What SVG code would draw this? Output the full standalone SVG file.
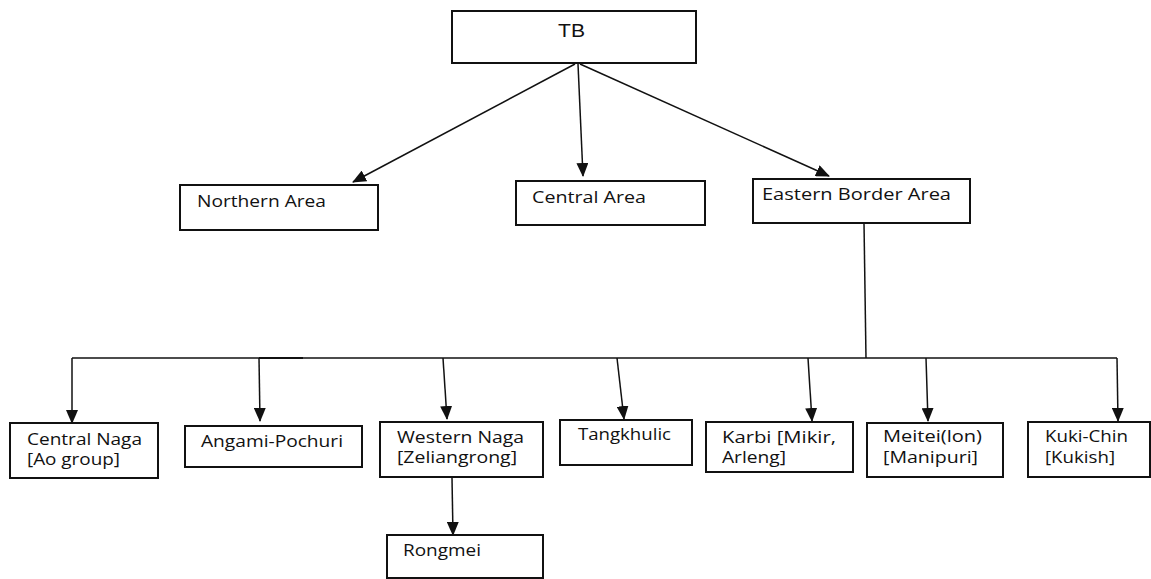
<svg xmlns="http://www.w3.org/2000/svg" width="1151" height="579" viewBox="0 0 1151 579">
<style>
.box{fill:#fff;stroke:#111;stroke-width:2}
.t{font-family:"Open Sans","Liberation Sans",sans-serif;font-size:16px;fill:#111}
.tb{font-family:"Liberation Sans",Arial,sans-serif;font-size:18px;fill:#111}
.c{fill:none;stroke:#111;stroke-width:1.5}
</style>
<defs>
<marker id="ah" markerUnits="userSpaceOnUse" markerWidth="14" markerHeight="12" viewBox="0 0 14 12" refX="13" refY="6" orient="auto">
<path d="M0,0 L14,6 L0,12 Z" fill="#111"/>
</marker>
</defs>
<rect width="1151" height="579" fill="#fff"/>
<g id="connectors">
<line class="c" x1="575" y1="64" x2="353" y2="182" marker-end="url(#ah)"/>
<line class="c" x1="578" y1="64" x2="583" y2="176" marker-end="url(#ah)"/>
<line class="c" x1="580" y1="64" x2="829" y2="176" marker-end="url(#ah)"/>
<line class="c" x1="864" y1="223" x2="866" y2="358"/>
<line class="c" x1="72" y1="358" x2="1117" y2="358"/>
<line x1="259" y1="358" x2="303" y2="358" stroke="#111" stroke-width="2.2"/>
<line class="c" x1="72" y1="358" x2="72" y2="423" marker-end="url(#ah)"/>
<line class="c" x1="259" y1="358" x2="260" y2="421" marker-end="url(#ah)"/>
<line class="c" x1="443" y1="358" x2="447" y2="419" marker-end="url(#ah)"/>
<line class="c" x1="617" y1="358" x2="624" y2="419" marker-end="url(#ah)"/>
<line class="c" x1="808" y1="358" x2="812" y2="421" marker-end="url(#ah)"/>
<line class="c" x1="926" y1="358" x2="928" y2="421" marker-end="url(#ah)"/>
<line class="c" x1="1117" y1="358" x2="1118" y2="421" marker-end="url(#ah)"/>
<line class="c" x1="452" y1="478" x2="453" y2="535" marker-end="url(#ah)"/>
</g>
<g id="tb"><rect class="box" x="452" y="11" width="244" height="52"/><text class="tb" x="558" y="37" textLength="27" lengthAdjust="spacingAndGlyphs">TB</text></g>
<g id="northern"><rect class="box" x="180" y="185" width="198" height="45"/><text class="t" x="197" y="207" textLength="129" lengthAdjust="spacingAndGlyphs">Northern Area</text></g>
<g id="central"><rect class="box" x="516" y="181" width="189" height="44"/><text class="t" x="532" y="203" textLength="114" lengthAdjust="spacingAndGlyphs">Central Area</text></g>
<g id="eastern"><rect class="box" x="753" y="179" width="217" height="44"/><text class="t" x="762" y="200" textLength="189" lengthAdjust="spacingAndGlyphs">Eastern Border Area</text></g>
<g id="centralnaga"><rect class="box" x="10" y="423" width="148" height="55"/><text class="t" x="27" y="445" textLength="115" lengthAdjust="spacingAndGlyphs">Central Naga</text><text class="t" x="27" y="465" textLength="93" lengthAdjust="spacingAndGlyphs">[Ao group]</text></g>
<g id="angami"><rect class="box" x="185" y="426" width="177" height="41"/><text class="t" x="201" y="447" textLength="142" lengthAdjust="spacingAndGlyphs">Angami-Pochuri</text></g>
<g id="westernnaga"><rect class="box" x="380" y="422" width="163" height="55"/><text class="t" x="397" y="443" textLength="127" lengthAdjust="spacingAndGlyphs">Western Naga</text><text class="t" x="397" y="463" textLength="120" lengthAdjust="spacingAndGlyphs">[Zeliangrong]</text></g>
<g id="tangkhulic"><rect class="box" x="560" y="420" width="132" height="45"/><text class="t" x="578" y="440" textLength="93" lengthAdjust="spacingAndGlyphs">Tangkhulic</text></g>
<g id="karbi"><rect class="box" x="706" y="422" width="147" height="50"/><text class="t" x="722" y="443" textLength="114" lengthAdjust="spacingAndGlyphs">Karbi [Mikir,</text><text class="t" x="722" y="463" textLength="64" lengthAdjust="spacingAndGlyphs">Arleng]</text></g>
<g id="meitei"><rect class="box" x="867" y="423" width="136" height="54"/><text class="t" x="883" y="442" textLength="99" lengthAdjust="spacingAndGlyphs">Meitei(lon)</text><text class="t" x="883" y="463" textLength="95" lengthAdjust="spacingAndGlyphs">[Manipuri]</text></g>
<g id="kukichin"><rect class="box" x="1028" y="422" width="122" height="55"/><text class="t" x="1045" y="442" textLength="83" lengthAdjust="spacingAndGlyphs">Kuki-Chin</text><text class="t" x="1045" y="463" textLength="70" lengthAdjust="spacingAndGlyphs">[Kukish]</text></g>
<g id="rongmei"><rect class="box" x="387" y="535" width="156" height="43"/><text class="t" x="403" y="556" textLength="78" lengthAdjust="spacingAndGlyphs">Rongmei</text></g>
</svg>
